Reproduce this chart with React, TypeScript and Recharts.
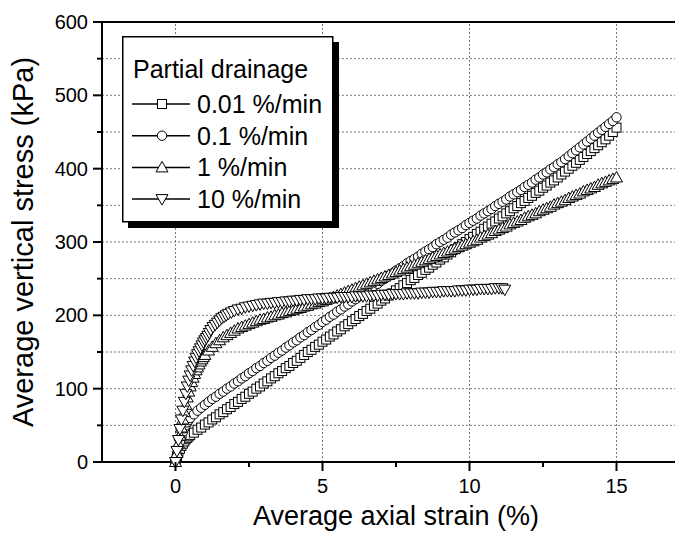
import { LineChart, Line, XAxis, YAxis, CartesianGrid, Legend, ReferenceLine } from "recharts";

// strain (%) vs average vertical stress (kPa)
const rate001: [number, number][] = [
  [0, 0], [0.05, 8], [0.1, 14], [0.15, 18], [0.2, 22], [0.25, 25], [0.3, 28], [0.35, 31], [0.4, 33], [0.45, 35],
  [0.5, 37], [0.625, 40], [0.75, 44], [0.875, 47], [1, 51], [1.125, 54], [1.25, 58], [1.375, 61], [1.5, 65],
  [1.625, 68], [1.75, 72], [1.875, 75], [2, 79], [2.125, 82], [2.25, 86], [2.375, 89], [2.5, 93], [2.625, 96],
  [2.75, 100], [2.875, 103], [3, 107], [3.125, 110], [3.25, 114], [3.375, 117], [3.5, 121], [3.625, 124],
  [3.75, 128], [3.875, 131], [4, 135], [4.125, 138], [4.25, 142], [4.375, 146], [4.5, 150], [4.625, 153],
  [4.75, 157], [4.875, 160], [5, 164], [5.125, 167], [5.25, 171], [5.375, 174], [5.5, 178], [5.625, 181],
  [5.75, 185], [5.875, 188], [6, 192], [6.125, 195], [6.25, 199], [6.375, 202], [6.5, 206], [6.625, 209],
  [6.75, 213], [6.875, 216], [7, 220], [7.125, 223], [7.25, 227], [7.375, 230], [7.5, 234], [7.625, 237],
  [7.75, 241], [7.875, 244], [8, 248], [8.125, 251], [8.25, 255], [8.375, 258], [8.5, 262], [8.625, 265],
  [8.75, 269], [8.875, 272], [9, 276], [9.125, 279], [9.25, 283], [9.375, 286], [9.5, 290], [9.625, 293],
  [9.75, 297], [9.875, 300], [10, 304], [10.125, 307], [10.25, 311], [10.375, 314], [10.5, 318], [10.625, 321],
  [10.75, 325], [10.875, 328], [11, 332], [11.125, 335], [11.25, 339], [11.375, 342], [11.5, 346], [11.625, 349],
  [11.75, 353], [11.875, 356], [12, 360], [12.125, 363], [12.25, 367], [12.375, 370], [12.5, 374], [12.625, 377],
  [12.75, 381], [12.875, 384], [13, 388], [13.125, 392], [13.25, 396], [13.375, 400], [13.5, 404], [13.625, 408],
  [13.75, 412], [13.875, 416], [14, 420], [14.125, 424], [14.25, 428], [14.375, 432], [14.5, 436], [14.625, 440],
  [14.75, 445], [14.875, 450], [15, 456],
];

const rate01: [number, number][] = [
  [0, 0], [0.05, 10], [0.1, 20], [0.15, 28], [0.2, 35], [0.25, 41], [0.3, 46], [0.35, 50], [0.4, 54], [0.45, 57],
  [0.5, 60], [0.625, 65], [0.75, 70], [0.875, 74], [1, 78], [1.125, 82], [1.25, 86], [1.375, 89], [1.5, 93],
  [1.625, 96], [1.75, 100], [1.875, 103], [2, 107], [2.125, 110], [2.25, 114], [2.375, 117], [2.5, 121],
  [2.625, 124], [2.75, 128], [2.875, 131], [3, 135], [3.125, 138], [3.25, 142], [3.375, 145], [3.5, 149],
  [3.625, 152], [3.75, 156], [3.875, 159], [4, 163], [4.125, 166], [4.25, 170], [4.375, 173], [4.5, 177],
  [4.625, 180], [4.75, 184], [4.875, 187], [5, 191], [5.125, 194], [5.25, 198], [5.375, 201], [5.5, 205],
  [5.625, 208], [5.75, 212], [5.875, 215], [6, 219], [6.125, 222], [6.25, 226], [6.375, 229], [6.5, 233],
  [6.625, 236], [6.75, 240], [6.875, 243], [7, 247], [7.125, 250], [7.25, 254], [7.375, 257], [7.5, 261],
  [7.625, 264], [7.75, 267], [7.875, 271], [8, 274], [8.125, 277], [8.25, 280], [8.375, 284], [8.5, 287],
  [8.625, 290], [8.75, 293], [8.875, 297], [9, 300], [9.125, 303], [9.25, 306], [9.375, 310], [9.5, 313],
  [9.625, 316], [9.75, 319], [9.875, 323], [10, 326], [10.125, 329], [10.25, 332], [10.375, 336], [10.5, 339],
  [10.625, 342], [10.75, 345], [10.875, 349], [11, 352], [11.125, 355], [11.25, 358], [11.375, 362], [11.5, 365],
  [11.625, 368], [11.75, 371], [11.875, 375], [12, 378], [12.125, 381], [12.25, 385], [12.375, 388], [12.5, 392],
  [12.625, 395], [12.75, 399], [12.875, 402], [13, 406], [13.125, 409], [13.25, 413], [13.375, 417], [13.5, 421],
  [13.625, 425], [13.75, 429], [13.875, 433], [14, 437], [14.125, 441], [14.25, 445], [14.375, 449], [14.5, 453],
  [14.625, 457], [14.75, 461], [14.875, 465], [15, 470],
];

const rate1: [number, number][] = [
  [0, 0], [0.05, 12], [0.1, 25], [0.15, 36], [0.2, 47], [0.25, 58], [0.3, 68], [0.35, 78], [0.4, 88], [0.45, 96],
  [0.5, 103], [0.55, 109], [0.6, 115], [0.65, 120], [0.7, 125], [0.75, 129], [0.8, 133], [0.85, 137], [0.9, 140],
  [0.95, 143], [1, 146], [1.125, 152], [1.25, 157], [1.375, 162], [1.5, 166], [1.625, 170], [1.75, 173],
  [1.875, 176], [2, 179], [2.125, 182], [2.25, 184], [2.375, 186], [2.5, 188], [2.625, 190], [2.75, 192],
  [2.875, 194], [3, 195], [3.125, 197], [3.25, 198], [3.375, 200], [3.5, 201], [3.625, 203], [3.75, 204],
  [3.875, 206], [4, 207], [4.125, 209], [4.25, 210], [4.375, 212], [4.5, 213], [4.625, 215], [4.75, 216],
  [4.875, 218], [5, 219], [5.125, 221], [5.25, 223], [5.375, 225], [5.5, 227], [5.625, 229], [5.75, 231],
  [5.875, 233], [6, 235], [6.125, 237], [6.25, 239], [6.375, 241], [6.5, 243], [6.625, 245], [6.75, 247],
  [6.875, 249], [7, 251], [7.125, 253], [7.25, 255], [7.375, 257], [7.5, 259], [7.625, 261], [7.75, 263],
  [7.875, 265], [8, 267], [8.125, 269], [8.25, 271], [8.375, 273], [8.5, 275], [8.625, 277], [8.75, 279],
  [8.875, 281], [9, 283], [9.125, 285], [9.25, 287], [9.375, 289], [9.5, 291], [9.625, 293], [9.75, 295],
  [9.875, 297], [10, 299], [10.125, 301], [10.25, 303], [10.375, 306], [10.5, 308], [10.625, 310], [10.75, 312],
  [10.875, 315], [11, 317], [11.125, 319], [11.25, 321], [11.375, 324], [11.5, 326], [11.625, 328], [11.75, 330],
  [11.875, 333], [12, 335], [12.125, 337], [12.25, 339], [12.375, 342], [12.5, 344], [12.625, 346], [12.75, 348],
  [12.875, 351], [13, 353], [13.125, 355], [13.25, 357], [13.375, 360], [13.5, 362], [13.625, 364], [13.75, 366],
  [13.875, 369], [14, 371], [14.125, 373], [14.25, 375], [14.375, 378], [14.5, 380], [14.625, 382], [14.75, 384],
  [14.875, 386], [15, 388],
];

const rate10: [number, number][] = [
  [0, 0], [0.05, 15], [0.1, 30], [0.15, 45], [0.2, 58], [0.25, 70], [0.3, 82], [0.35, 93], [0.4, 103], [0.45, 111],
  [0.5, 118], [0.55, 125], [0.6, 131], [0.65, 137], [0.7, 142], [0.75, 147], [0.8, 151], [0.85, 155], [0.9, 159],
  [0.95, 163], [1, 166], [1.05, 169], [1.1, 172], [1.15, 176], [1.2, 180], [1.275, 184], [1.35, 187], [1.425, 190],
  [1.5, 193], [1.575, 196], [1.65, 198], [1.725, 200], [1.8, 202], [1.9, 204], [2, 206], [2.125, 208], [2.25, 209],
  [2.375, 211], [2.5, 212], [2.625, 213], [2.75, 214], [2.875, 215], [3, 216], [3.125, 216], [3.25, 217],
  [3.375, 217], [3.5, 218], [3.625, 218], [3.75, 219], [3.875, 219], [4, 220], [4.125, 220], [4.25, 221],
  [4.375, 221], [4.5, 222], [4.625, 222], [4.75, 222], [4.875, 223], [5, 223], [5.125, 223], [5.25, 224],
  [5.375, 224], [5.5, 224], [5.625, 225], [5.75, 225], [5.875, 225], [6, 225], [6.125, 226], [6.25, 226],
  [6.375, 226], [6.5, 226], [6.625, 227], [6.75, 227], [6.875, 227], [7, 228], [7.125, 228], [7.25, 228],
  [7.375, 229], [7.5, 229], [7.625, 229], [7.75, 229], [7.875, 230], [8, 230], [8.125, 230], [8.25, 230],
  [8.375, 231], [8.5, 231], [8.625, 231], [8.75, 232], [8.875, 232], [9, 232], [9.125, 233], [9.25, 233],
  [9.375, 233], [9.5, 233], [9.625, 234], [9.75, 234], [9.875, 234], [10, 235], [10.125, 235], [10.25, 235],
  [10.375, 236], [10.5, 236], [10.625, 236], [10.75, 236], [10.875, 237], [11, 237], [11.1, 237], [11.2, 235],
];

const xTicks = [0, 2.5, 5, 7.5, 10, 12.5, 15];
const xMajor = [0, 5, 10, 15];
const yTicks = [0, 50, 100, 150, 200, 250, 300, 350, 400, 450, 500, 550, 600];

const series = [
  { name: "0.01 %/min", data: rate001, kind: "square" },
  { name: "0.1 %/min", data: rate01, kind: "circle" },
  { name: "1 %/min", data: rate1, kind: "up" },
  { name: "10 %/min", data: rate10, kind: "down" },
];

const FONT = "'Liberation Sans', Arial, sans-serif";

function Marker({ kind, cx, cy }: { kind: string; cx: number; cy: number }) {
  const common = { fill: "#fff", stroke: "#000", strokeWidth: 1 };
  if (kind === "square") return <rect x={cx - 4.5} y={cy - 4.5} width={9} height={9} {...common} />;
  if (kind === "circle") return <circle cx={cx} cy={cy} r={4.7} {...common} />;
  if (kind === "up") return <polygon points={`${cx},${cy - 6} ${cx + 6},${cy + 4.5} ${cx - 6},${cy + 4.5}`} {...common} />;
  return <polygon points={`${cx - 6},${cy - 4.5} ${cx + 6},${cy - 4.5} ${cx},${cy + 6}`} {...common} />;
}

const XTick = ({ x, y, payload }: any) => {
  const major = payload.value % 5 === 0;
  return (
    <g>
      <line x1={x} y1={y} x2={x} y2={y + (major ? 9 : 5)} stroke="#000" strokeWidth={2} />
      {major && (
        <text x={x} y={y + 31} textAnchor="middle" fontSize={20} fontFamily={FONT} fill="#000">
          {payload.value}
        </text>
      )}
    </g>
  );
};

const YTick = ({ x, y, payload }: any) => {
  const major = payload.value % 100 === 0;
  return (
    <g>
      <line x1={x} y1={y} x2={x - (major ? 9 : 5)} y2={y} stroke="#000" strokeWidth={2} />
      {major && (
        <text x={x - 14} y={y + 7} textAnchor="end" fontSize={20} fontFamily={FONT} fill="#000">
          {payload.value}
        </text>
      )}
    </g>
  );
};

const LegendBox = () => (
  <svg width={220} height={194} style={{ display: "block" }}>
    <rect x={6} y={6} width={211} height={186} fill="#000" />
    <rect x={0.75} y={0.75} width={210} height={185} fill="#fff" stroke="#000" strokeWidth={1.5} />
    <text x={11} y={42} fontSize={25} fontFamily={FONT} fill="#000">Partial drainage</text>
    {series.map((s, i) => {
      const base = 77 + i * 31.7;
      return (
        <g key={s.name}>
          <line x1={10} x2={68} y1={base - 9} y2={base - 9} stroke="#000" strokeWidth={1.5} />
          <Marker kind={s.kind} cx={40} cy={base - 9} />
          <text x={75} y={base} fontSize={25} fontFamily={FONT} fill="#000">{s.name}</text>
        </g>
      );
    })}
  </svg>
);

export default function App() {
  return (
    <div style={{ width: 675, height: 528, overflow: "hidden" }}>
      <LineChart width={700} height={528} margin={{ top: 14, right: 18, bottom: 14, left: 0 }}>
        <CartesianGrid vertical={false} stroke="#777" strokeDasharray="2 2" />
        {xMajor.map((v) => (
          <ReferenceLine key={v} x={v} stroke="#777" strokeDasharray="2 2" />
        ))}
        <XAxis
          type="number"
          dataKey="x"
          domain={[-2.5, 17.5]}
          ticks={xTicks}
          allowDataOverflow
          height={60}
          tickSize={0}
          tickMargin={0}
          tick={<XTick />}
          axisLine={{ stroke: "#000", strokeWidth: 2 }}
          label={{
            content: ({ viewBox }: any) => (
              <text x={viewBox.x + viewBox.width / 2} y={517} textAnchor="middle" fontSize={27} fontFamily={FONT} fill="#000">
                Average axial strain (%)
              </text>
            ),
          }}
        />
        <YAxis
          type="number"
          domain={[0, 600]}
          ticks={yTicks}
          width={94}
          tickSize={0}
          tickMargin={0}
          tick={<YTick />}
          axisLine={{ stroke: "#000", strokeWidth: 2 }}
          label={{
            content: ({ viewBox }: any) => {
              const cy = viewBox.y + viewBox.height / 2;
              return (
                <text x={15} y={cy} transform={`rotate(-90 15 ${cy})`} textAnchor="middle" dominantBaseline="central" fontSize={29} fontFamily={FONT} fill="#000">
                  Average vertical stress (kPa)
                </text>
              );
            },
          }}
        />
        <ReferenceLine y={600} stroke="#000" strokeWidth={2} />
        <Legend
          layout="vertical"
          align="center"
          verticalAlign="middle"
          wrapperStyle={{ left: 114, top: 28, width: 220, height: 194 }}
          content={() => <LegendBox />}
        />
        {series.map((s) => (
          <Line
            key={s.name}
            name={s.name}
            data={s.data.map(([x, y]) => ({ x, y }))}
            dataKey="y"
            stroke="#000"
            strokeWidth={1.5}
            isAnimationActive={false}
            activeDot={false}
            dot={(p: any) => <Marker key={`${s.kind}-${p.index}`} kind={s.kind} cx={p.cx} cy={p.cy} />}
          />
        ))}
      </LineChart>
    </div>
  );
}
